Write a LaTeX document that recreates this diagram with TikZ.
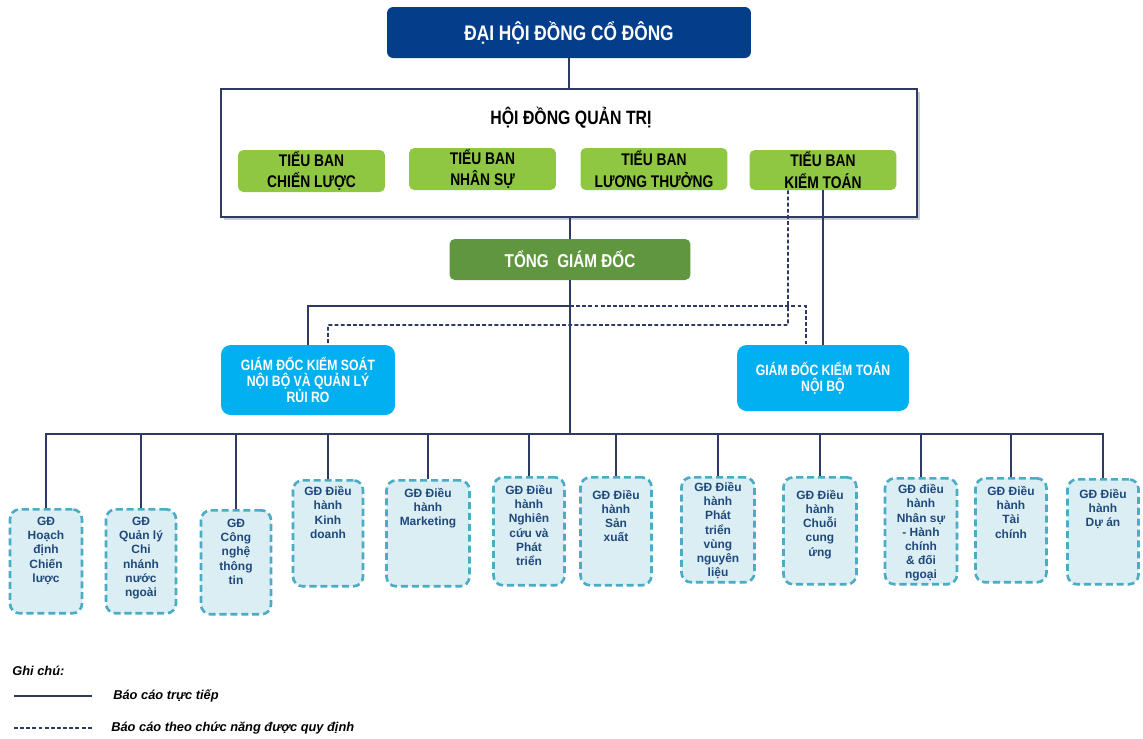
\documentclass[tikz,border=0pt]{standalone}
\usepackage{fontspec}
\setmainfont{Liberation Sans}
\newfontfamily\narrowsans[FakeStretch=0.82]{Liberation Sans}
\usetikzlibrary{shadows}

\definecolor{linecol}{RGB}{47,58,99}
\definecolor{dhcdblue}{RGB}{4,62,138}
\definecolor{tbgreen}{RGB}{144,199,66}
\definecolor{tgdgreen}{RGB}{95,150,63}
\definecolor{kscyan}{RGB}{0,176,240}
\definecolor{gdfill}{RGB}{219,238,243}
\definecolor{gdedge}{RGB}{75,172,198}
\definecolor{gdnavy}{RGB}{31,73,125}

\newcommand{\tightlines}{\lineskiplimit=-6pt\relax}

\begin{document}
\begin{tikzpicture}[x=0.02cm, y=-0.02cm,
  direct/.style={linecol, line width=1.1pt},
  functional/.style={linecol, line width=1pt, dash pattern=on 2.2pt off 1.3pt},
  tbbox/.style={rectangle, rounded corners=3pt, fill=tbgreen, inner sep=0pt, minimum width=2.94cm, minimum height=0.84cm, align=center, font=\narrowsans\bfseries\fontsize{9.6}{12.3}\selectfont},
  ksbox/.style={rectangle, rounded corners=5.5pt, fill=kscyan, inner sep=0pt, align=center, text=white, font=\narrowsans\bfseries\fontsize{8.5}{9.1}\selectfont, execute at begin node=\tightlines},
  gdbox/.style={rectangle, rounded corners=5.5pt, fill=gdfill, draw=gdedge, line width=1.5pt, dash pattern=on 4pt off 2.2pt, anchor=north, inner sep=0pt},
  gdtext/.style={draw=none, fill=none, solid, anchor=north, yshift=-3pt, inner sep=2pt, align=center, text=gdnavy, font=\bfseries\fontsize{6.8}{8.1}\selectfont, execute at begin node={\tightlines\vphantom{Ề}}},
  legendtext/.style={anchor=west, inner sep=0pt, font=\bfseries\itshape\fontsize{7.3}{8}\selectfont}
]
\useasboundingbox[fill=white] (0,0) rectangle (1143,738);

% Top levels
\node[rectangle, rounded corners=3.5pt, fill=dhcdblue, inner sep=0pt, minimum width=7.28cm, minimum height=1.02cm, text=white, font=\narrowsans\bfseries\fontsize{12}{14}\selectfont] (dhcd) at (569,32.5) {ĐẠI HỘI ĐỒNG CỔ ĐÔNG};

\node[rectangle, draw=linecol, line width=1.2pt, fill=white, inner sep=0pt, minimum width=13.92cm, minimum height=2.56cm, drop shadow={shadow xshift=1.5pt, shadow yshift=-1.5pt, fill=black!40, opacity=0.5}] (hdqt) at (569,153) {};
\node[font=\narrowsans\bfseries\fontsize{11}{13}\selectfont] (hdqtname) at (571,118) {HỘI ĐỒNG QUẢN TRỊ};

% Committees
\node[tbbox] (tb1) at (311.5,171) {TIỂU BAN\\CHIẾN LƯỢC};
\node[tbbox] (tb2) at (482.5,169) {TIỂU BAN\\NHÂN SỰ};
\node[tbbox] (tb3) at (654,169) {TIỂU BAN\\LƯƠNG THƯỞNG};
\node[tbbox, minimum height=0.8cm] (tb4) at (823,170) {TIỂU BAN\\KIỂM TOÁN};

\node[rectangle, rounded corners=3pt, fill=tgdgreen, inner sep=0pt, minimum width=4.82cm, minimum height=0.82cm, text=white, font=\narrowsans\bfseries\fontsize{10.6}{13}\selectfont] (tgd) at (570,259.5) {TỔNG\ \ GIÁM ĐỐC};

% Control and audit
\node[ksbox, minimum width=3.48cm, minimum height=1.4cm] (ksnb) at (308,380) {GIÁM ĐỐC KIỂM SOÁT\\NỘI BỘ VÀ QUẢN LÝ\\RỦI RO};
\node[ksbox, minimum width=3.44cm, minimum height=1.32cm] (ktnb) at (823,378) {GIÁM ĐỐC KIỂM TOÁN\\NỘI BỘ};

% Executive directors
\node[gdbox, minimum width=1.44cm, minimum height=2.08cm, label={[gdtext]north:GĐ\\Hoạch\\định\\Chiến\\lược}] (g1) at (46,508) {};
\node[gdbox, minimum width=1.40cm, minimum height=2.08cm, label={[gdtext]north:GĐ\\Quản lý\\Chi\\nhánh\\nước\\ngoài}] (g2) at (141,508) {};
\node[gdbox, minimum width=1.40cm, minimum height=2.08cm, label={[gdtext, yshift=-0.5pt]north:GĐ\\Công\\nghệ\\thông\\tin}] (g3) at (236,509) {};
\node[gdbox, minimum width=1.40cm, minimum height=2.12cm, label={[gdtext, yshift=1pt]north:GĐ Điều\\hành\\Kinh\\doanh}] (g4) at (328,479) {};
\node[gdbox, minimum width=1.66cm, minimum height=2.12cm, label={[gdtext]north:GĐ Điều\\hành\\Marketing}] (g5) at (428,479) {};
\node[gdbox, minimum width=1.42cm, minimum height=2.16cm, label={[gdtext]north:GĐ Điều\\hành\\Nghiên\\cứu và\\Phát\\triển}] (g6) at (529,476) {};
\node[gdbox, minimum width=1.42cm, minimum height=2.16cm, label={[gdtext, yshift=-2.8pt]north:GĐ Điều\\hành\\Sản\\xuất}] (g7) at (616,476) {};
\node[gdbox, minimum width=1.46cm, minimum height=2.10cm, label={[gdtext, yshift=1.7pt]north:GĐ Điều\\hành\\Phát\\triển\\vùng\\nguyên\\liệu}] (g8) at (718,476) {};
\node[gdbox, minimum width=1.46cm, minimum height=2.14cm, label={[gdtext, yshift=-2.8pt]north:GĐ Điều\\hành\\Chuỗi\\cung\\ứng}] (g9) at (820,476) {};
\node[gdbox, minimum width=1.44cm, minimum height=2.12cm, label={[gdtext, yshift=1pt]north:GĐ điều\\hành\\Nhân sự\\- Hành\\chính\\\&{} đối\\ngoại}] (g10) at (921,477) {};
\node[gdbox, minimum width=1.42cm, minimum height=2.08cm, label={[gdtext]north:GĐ Điều\\hành\\Tài\\chính}] (g11) at (1011,477) {};
\node[gdbox, minimum width=1.42cm, minimum height=2.10cm, label={[gdtext, yshift=-1pt]north:GĐ Điều\\hành\\Dự án}] (g12) at (1103,478) {};

% Direct reporting lines
\coordinate (split) at (570,306);
\coordinate (bus) at (570,434);
\draw[direct] (dhcd.south) -- (hdqt.north);
\draw[direct] (tgd.north) -- (tgd.north |- hdqt.south);
\draw[direct] (tgd.south) -- (bus);
\draw[direct] (split) -| (ksnb.north);
\draw[direct] (tb4.south) -- (ktnb.north);
\draw[direct] (g1.north) |- (bus); \draw[direct] (g2.north) |- (bus);
\draw[direct] (g3.north) |- (bus); \draw[direct] (g4.north) |- (bus);
\draw[direct] (g5.north) |- (bus); \draw[direct] (g6.north) |- (bus);
\draw[direct] (g7.north) |- (bus); \draw[direct] (g8.north) |- (bus);
\draw[direct] (g9.north) |- (bus); \draw[direct] (g10.north) |- (bus);
\draw[direct] (g11.north) |- (bus); \draw[direct] (g12.north) |- (bus);

% Functional reporting lines
\coordinate (fa) at (788,325);
\coordinate (fb) at (328,325);
\draw[functional] ([xshift=-0.7cm]tb4.south) -- (fa) -- (fb) -- (fb |- ksnb.north);
\draw[functional] (split) -| ([xshift=-0.34cm]ktnb.north);

% Legend
\node[legendtext] (note) at (12,671) {Ghi chú:};
\coordinate (l1a) at (14,696); \coordinate (l1b) at (92,696);
\coordinate (l2a) at (14,728); \coordinate (l2b) at (92,728);
\draw[direct] (l1a) -- (l1b);
\draw[functional] (l2a) -- (l2b);
\node[legendtext] (direct note) at (113,696) {Báo cáo trực tiếp};
\node[legendtext] (func note) at (111,728) {Báo cáo theo chức năng được quy định};

\end{tikzpicture}
\end{document}
